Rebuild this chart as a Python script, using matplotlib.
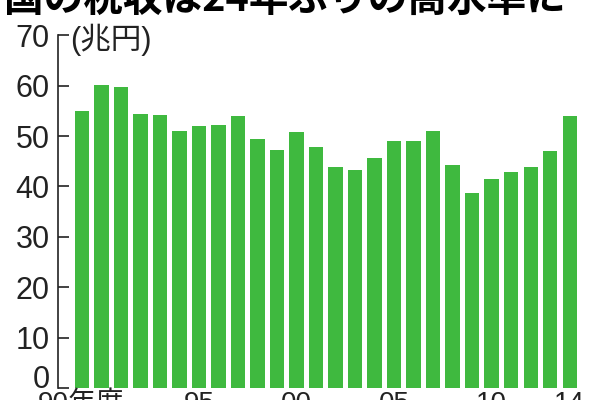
import matplotlib
matplotlib.use("Agg")
import matplotlib.pyplot as plt

plt.rcParams['font.family'] = ['Liberation Sans', 'Noto Sans CJK JP', 'DejaVu Sans']

# 国の税収 (兆円), 1989-2014年度
years = list(range(1989, 2015))
revenue = [54.9, 60.1, 59.8, 54.4, 54.1, 51.0, 51.9, 52.1, 53.9, 49.4,
           47.2, 50.7, 47.9, 43.8, 43.3, 45.6, 49.1, 49.1, 51.0, 44.3,
           38.7, 41.5, 42.8, 43.9, 47.0, 54.0]
tick_years = [1988.95, 1995, 2000, 2005, 2010, 2014]
tick_labels = ["90年度", "95", "00", "05", "10", "14"]
title = "国の税収は24年ぶりの高水準に"

fig = plt.figure(figsize=(6, 4), dpi=100)
ax = fig.add_axes([58 / 600, 12 / 400, 532 / 600, 352.8 / 400])

ax.bar(years, revenue, width=0.72, color='#3fb93f', edgecolor='none')

ax.set_xlim(1989 - 1.23, 1989 + 26.05)
ax.set_ylim(0, 70)
ax.set_yticks(range(0, 71, 10))
ax.tick_params(axis='y', direction='in', length=8, width=1.2, pad=6,
               labelsize=22, colors='#222222')
ax.set_xticks(tick_years, tick_labels)
ax.tick_params(axis='x', length=0, pad=2, labelsize=20, colors='#222222')

for s in ['top', 'right', 'bottom']:
    ax.spines[s].set_visible(False)
ax.spines['left'].set_linewidth(1.2)
ax.spines['left'].set_color('#222222')

# "0" sits above its tick in the original
ax.get_yticklabels()[0].set_verticalalignment('baseline')

ax.text(1989 - 0.62, 69, "(兆円)", ha='left', va='center', fontsize=22,
        color='#222222')

fig.text(4 / 600, 1 - 12 / 400, title, ha='left', va='baseline',
         fontsize=28.5, fontweight='bold', color='black',
         family=['Noto Sans CJK JP', 'DejaVu Sans'])

fig.savefig("out.png", dpi=100)
